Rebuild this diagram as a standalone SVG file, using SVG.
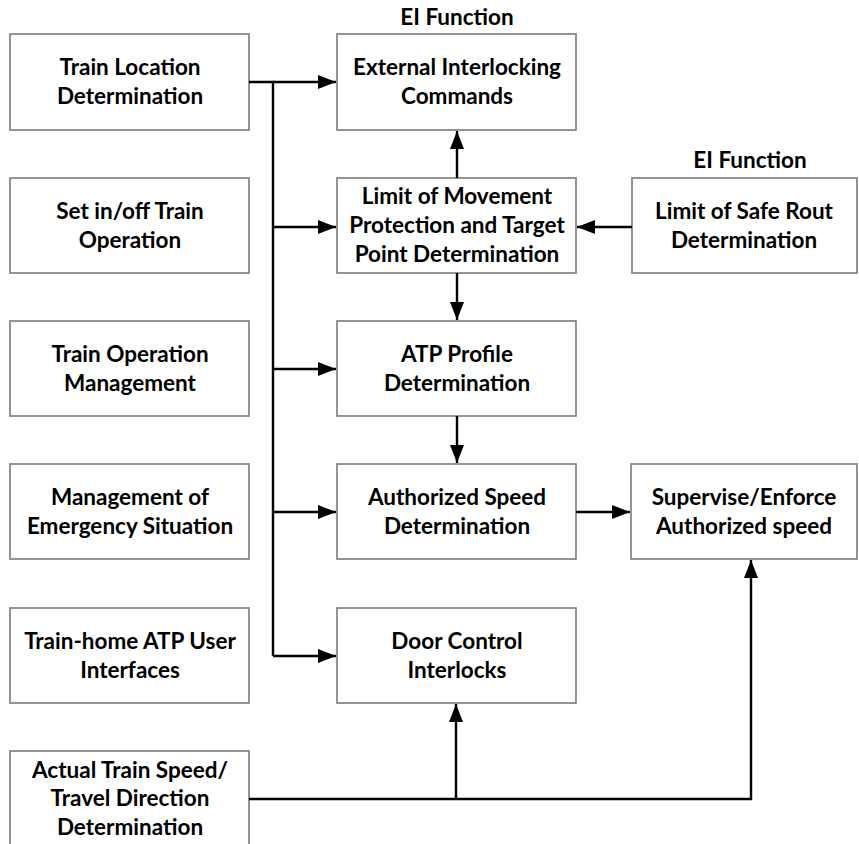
<svg xmlns="http://www.w3.org/2000/svg" width="859" height="844" viewBox="0 0 859 844">
  <style>
    .box { fill: #ffffff; stroke: #7a7a7a; stroke-width: 1.6; }
    .lbl { font-family: Lato, "Liberation Sans", sans-serif; font-weight: bold; font-size: 22.5px; fill: #000000; text-anchor: middle; }
    .wire { fill: none; stroke: #000000; stroke-width: 2.4; }
  </style>
  <defs>
    <marker id="arrow" markerWidth="18" markerHeight="14" refX="18" refY="7" orient="auto" markerUnits="userSpaceOnUse">
      <path d="M0,0 L18,7 L0,14 Z" fill="#000000"/>
    </marker>
  </defs>
  <rect width="859" height="844" fill="#ffffff"/>

  <!-- left column -->
  <g id="train-location">
    <rect class="box" x="10" y="34" width="239" height="96"/>
    <text class="lbl" x="130" y="75">Train Location</text>
    <text class="lbl" x="130" y="104">Determination</text>
  </g>
  <g id="set-in-off">
    <rect class="box" x="10" y="178" width="239" height="95"/>
    <text class="lbl" x="130" y="219">Set in/off Train</text>
    <text class="lbl" x="130" y="248">Operation</text>
  </g>
  <g id="train-operation-mgmt">
    <rect class="box" x="10" y="321" width="239" height="95"/>
    <text class="lbl" x="130" y="362">Train Operation</text>
    <text class="lbl" x="130" y="391">Management</text>
  </g>
  <g id="emergency-mgmt">
    <rect class="box" x="10" y="464" width="239" height="95"/>
    <text class="lbl" x="130" y="505">Management of</text>
    <text class="lbl" x="130" y="534">Emergency Situation</text>
  </g>
  <g id="user-interfaces">
    <rect class="box" x="10" y="608" width="239" height="95"/>
    <text class="lbl" x="130" y="649">Train-home ATP User</text>
    <text class="lbl" x="130" y="678">Interfaces</text>
  </g>
  <g id="actual-speed">
    <rect class="box" x="10" y="751" width="239" height="100"/>
    <text class="lbl" x="130" y="778">Actual Train Speed/</text>
    <text class="lbl" x="130" y="806">Travel Direction</text>
    <text class="lbl" x="130" y="835">Determination</text>
  </g>

  <!-- centre column -->
  <g id="ei-commands">
    <text class="lbl" x="457" y="25">EI Function</text>
    <rect class="box" x="337" y="34" width="239" height="96"/>
    <text class="lbl" x="457" y="75">External Interlocking</text>
    <text class="lbl" x="457" y="104">Commands</text>
  </g>
  <g id="movement-limit">
    <rect class="box" x="337" y="178" width="239" height="95"/>
    <text class="lbl" x="457" y="204">Limit of Movement</text>
    <text class="lbl" x="457" y="233">Protection and Target</text>
    <text class="lbl" x="457" y="262">Point Determination</text>
  </g>
  <g id="atp-profile">
    <rect class="box" x="337" y="321" width="239" height="95"/>
    <text class="lbl" x="457" y="362">ATP Profile</text>
    <text class="lbl" x="457" y="391">Determination</text>
  </g>
  <g id="authorized-speed">
    <rect class="box" x="337" y="464" width="239" height="95"/>
    <text class="lbl" x="457" y="505">Authorized Speed</text>
    <text class="lbl" x="457" y="534">Determination</text>
  </g>
  <g id="door-control">
    <rect class="box" x="337" y="608" width="239" height="95"/>
    <text class="lbl" x="457" y="649">Door Control</text>
    <text class="lbl" x="457" y="678">Interlocks</text>
  </g>

  <!-- right column -->
  <g id="safe-route-limit">
    <text class="lbl" x="750" y="168">EI Function</text>
    <rect class="box" x="632" y="178" width="225" height="95"/>
    <text class="lbl" x="744" y="219">Limit of Safe Rout</text>
    <text class="lbl" x="744" y="248">Determination</text>
  </g>
  <g id="supervise-speed">
    <rect class="box" x="631" y="464" width="226" height="95"/>
    <text class="lbl" x="744" y="505">Supervise/Enforce</text>
    <text class="lbl" x="744" y="534">Authorized speed</text>
  </g>

  <!-- connectors -->
  <g id="connectors">
    <path class="wire" d="M249,82 H273 V656"/>
    <path class="wire" d="M273,82 H336" marker-end="url(#arrow)"/>
    <path class="wire" d="M273,227 H336" marker-end="url(#arrow)"/>
    <path class="wire" d="M273,369 H336" marker-end="url(#arrow)"/>
    <path class="wire" d="M273,512 H336" marker-end="url(#arrow)"/>
    <path class="wire" d="M273,656 H336" marker-end="url(#arrow)"/>
    <path class="wire" d="M457,178 V131" marker-end="url(#arrow)"/>
    <path class="wire" d="M632,227 H577" marker-end="url(#arrow)"/>
    <path class="wire" d="M457,273 V320" marker-end="url(#arrow)"/>
    <path class="wire" d="M457,416 V463" marker-end="url(#arrow)"/>
    <path class="wire" d="M576,512 H630" marker-end="url(#arrow)"/>
    <path class="wire" d="M249,799 H751 V560" marker-end="url(#arrow)"/>
    <path class="wire" d="M456,799 V704" marker-end="url(#arrow)"/>
  </g>
</svg>
